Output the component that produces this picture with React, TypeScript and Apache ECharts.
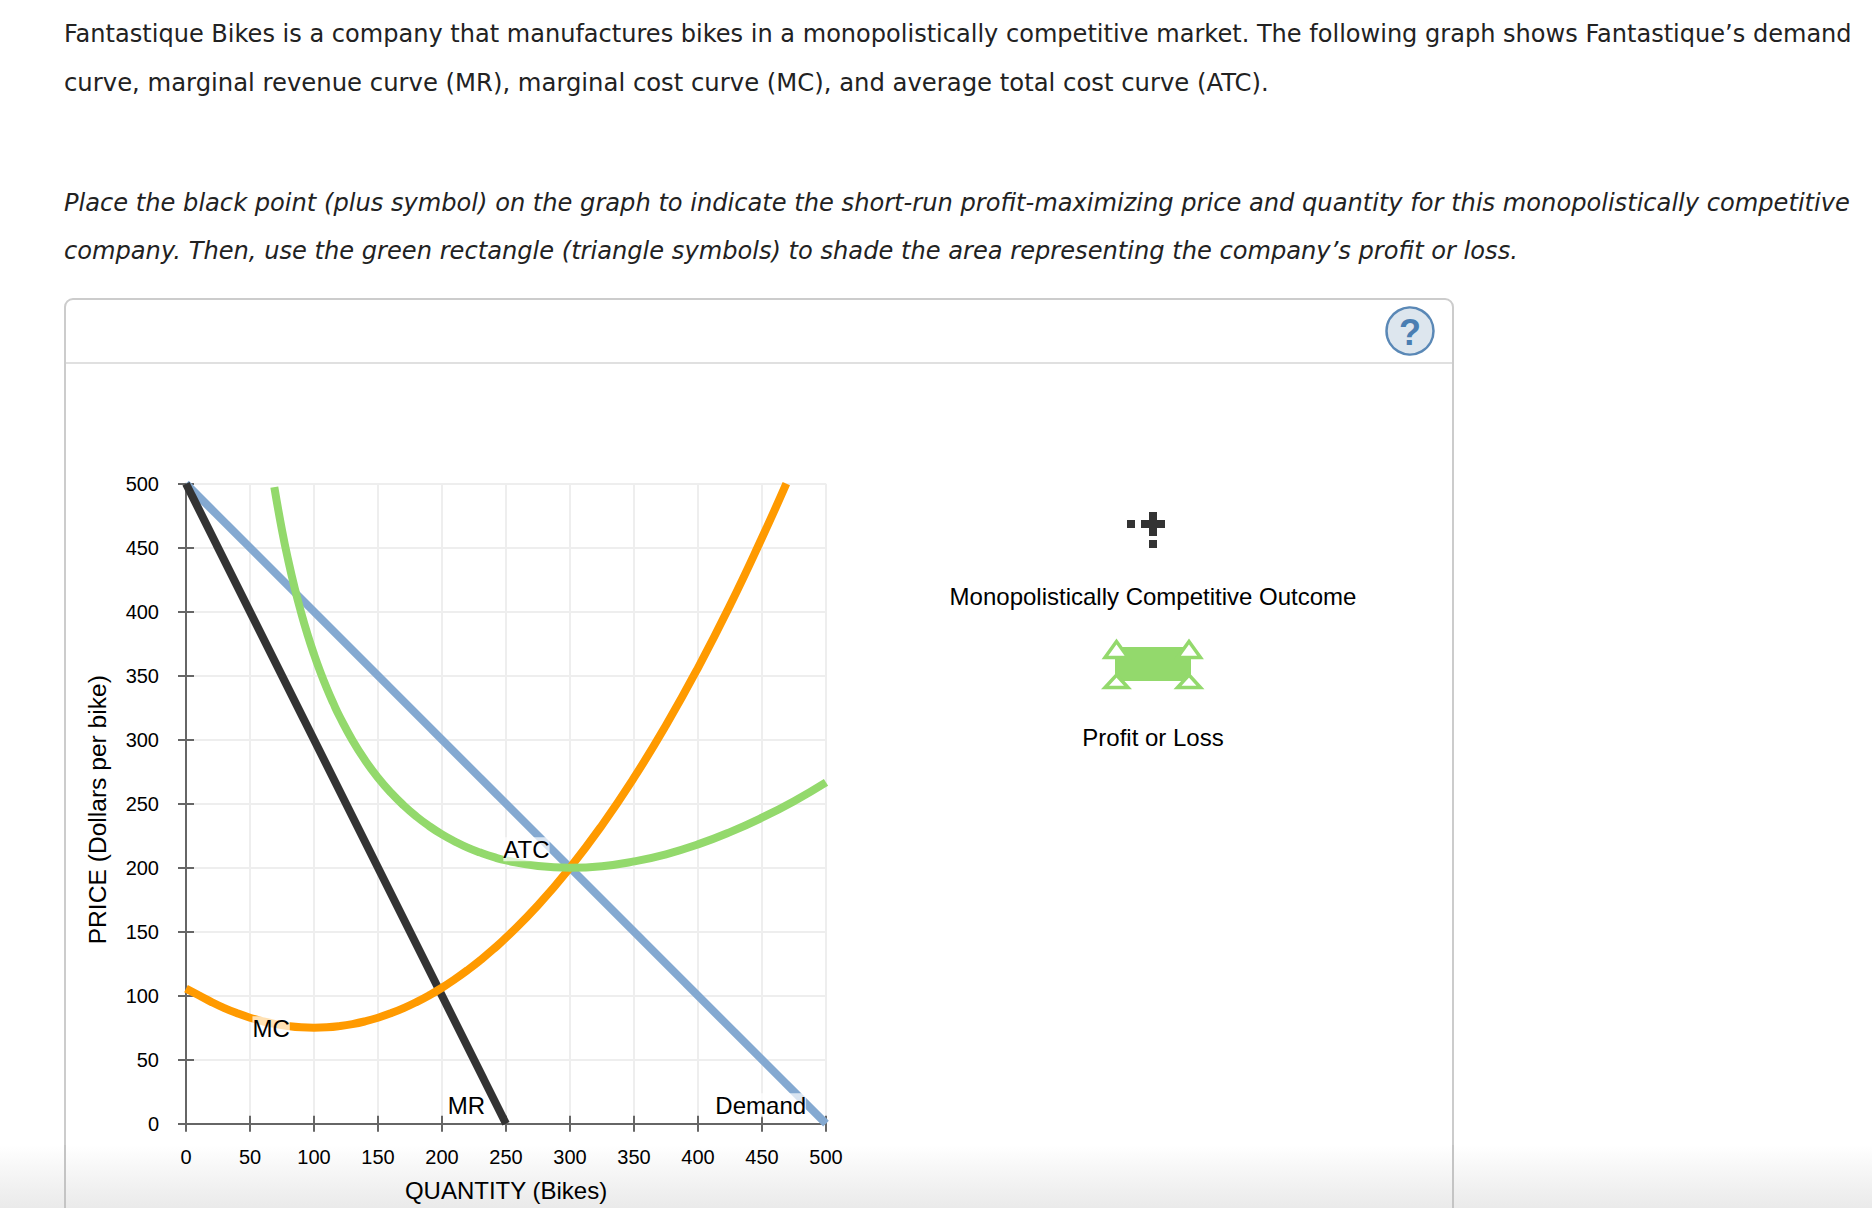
import React, { useEffect, useRef } from "react";
import * as echarts from "echarts";

const demandPoints = [[0, 500], [500, 0]];
const mrPoints = [[0, 500], [250, 0]];
const mcPoints = [[0, 105.5], [10, 100.3], [20, 95], [30, 90.3], [40, 86.25], [50, 82.8], [60, 80], [70, 77.8], [80, 76.25], [90, 75.3], [100, 75], [110, 75.3], [120, 76.25], [130, 77.8], [140, 80], [150, 82.8], [160, 86.25], [170, 90.3], [180, 95], [190, 100.3], [200, 106.2], [210, 112.8], [220, 120], [230, 127.8], [240, 136.2], [250, 145.3], [275, 170.7], [300, 200], [325, 233.2], [350, 270.3], [375, 311.3], [400, 356.2], [425, 405], [450, 457.8], [469, 500]];
const atcPoints = [[69, 497.3], [75, 463.7], [80, 439.5], [85, 418.1], [90, 399.1], [95, 382], [100, 366.7], [105, 352.8], [110, 340.2], [115, 328.7], [120, 318.1], [130, 299.6], [140, 283.8], [150, 270.3], [160, 258.7], [170, 248.7], [180, 240], [190, 232.5], [200, 226], [210, 220.5], [220, 215.7], [230, 211.8], [240, 208.4], [250, 205.7], [275, 201.4], [300, 200], [325, 201.2], [350, 204.9], [375, 210.5], [400, 218.2], [425, 227.8], [450, 239.1], [475, 252], [500, 266.7]];
const curveLabels = [
  { name: "ATC", value: [266, 214.5] },
  { name: "MC", value: [66.5, 74.5] },
  { name: "MR", value: [219, 14.5] },
  { name: "Demand", value: [449, 14.5] },
];
const paragraphLines = [
  "Fantastique Bikes is a company that manufactures bikes in a monopolistically competitive market. The following graph shows Fantastique’s demand",
  "curve, marginal revenue curve (MR), marginal cost curve (MC), and average total cost curve (ATC).",
];
const instructionLines = [
  "Place the black point (plus symbol) on the graph to indicate the short-run profit-maximizing price and quantity for this monopolistically competitive",
  "company. Then, use the green rectangle (triangle symbols) to shade the area representing the company’s profit or loss.",
];

const SANS = "'Liberation Sans', Arial, sans-serif";
const GREEN = "#93d96c";

export default function App() {
  const ref = useRef<HTMLDivElement>(null);
  useEffect(() => {
    document.body.style.margin = "0";
    const chart = echarts.init(ref.current!, null, { renderer: "svg" });
    const line = (name: string, data: number[][], color: string, smooth: boolean, z: number) => ({
      type: "line", name, data, smooth, showSymbol: false, symbol: "none", z, clip: false,
      lineStyle: { color, width: 8, cap: "butt" },
    });
    const baseAxis = { type: "value", min: 0, max: 500, interval: 50 };
    const triangle = (cx: number, apex: number, base: number) => ({
      type: "polygon", z: 6,
      shape: { points: [[cx, apex], [cx + 11.5, base], [cx - 11.5, base]] },
      style: { fill: "#fff", stroke: GREEN, lineWidth: 3.5 },
    });
    const sizes = [24.05, 24.3, 24.13, 24.14];
    const texts = [
      ...paragraphLines.map((t, i) => ({ t, y: 34 + i * 48, italic: false, size: sizes[i] })),
      ...instructionLines.map((t, i) => ({ t, y: 202.5 + i * 48, italic: true, size: sizes[i + 2] })),
    ].map(({ t, y, italic, size }) => ({
      type: "text", x: 64, y,
      style: { text: t, font: `${italic ? "italic " : ""}${size}px 'DejaVu Sans'`, fill: "#222", textVerticalAlign: "middle" },
    }));
    chart.setOption({
      animation: false,
      backgroundColor: "#fff",
      grid: { left: 186, top: 483.7, width: 640, height: 640, outerBoundsMode: "none", containLabel: false },
      xAxis: [
        {
          ...baseAxis,
          name: "QUANTITY (Bikes)", nameLocation: "middle", nameGap: 55,
          nameTextStyle: { fontFamily: SANS, fontSize: 24, color: "#000" },
          axisLine: { show: true, onZero: false, lineStyle: { color: "#666", width: 2 } },
          axisTick: { show: true, length: 8, lineStyle: { color: "#666", width: 2 } },
          axisLabel: { show: true, fontFamily: SANS, fontSize: 20, color: "#000", margin: 23 },
          splitLine: { show: true, lineStyle: { color: "#eee", width: 2 } },
        },
        {
          ...baseAxis, position: "bottom",
          axisLine: { show: false },
          axisTick: { show: true, inside: true, length: 8, lineStyle: { color: "#666", width: 2 } },
          axisLabel: { show: false }, splitLine: { show: false },
        },
      ],
      yAxis: [
        {
          ...baseAxis,
          name: "PRICE (Dollars per bike)", nameLocation: "middle", nameGap: 76, nameRotate: 90,
          nameTextStyle: { fontFamily: SANS, fontSize: 24.6, color: "#000", padding: [0, 12, 0, 0] },
          axisLine: { show: true, onZero: false, lineStyle: { color: "#666", width: 2 } },
          axisTick: { show: true, length: 8, lineStyle: { color: "#666", width: 2 } },
          axisLabel: { show: true, fontFamily: SANS, fontSize: 20, color: "#000", margin: 27 },
          splitLine: { show: true, lineStyle: { color: "#eee", width: 2 } },
        },
        {
          ...baseAxis, position: "left",
          axisLine: { show: false },
          axisTick: { show: true, inside: true, length: 8, lineStyle: { color: "#666", width: 2 } },
          axisLabel: { show: false }, splitLine: { show: false },
        },
      ],
      series: [
        line("Demand", demandPoints, "#84a9d1", false, 3),
        line("MR", mrPoints, "#333333", false, 4),
        line("MC", mcPoints, "#ff9a00", true, 5),
        line("ATC", atcPoints, GREEN, true, 6),
        {
          type: "scatter", data: curveLabels, symbolSize: 0, z: 10,
          itemStyle: { opacity: 1 },
          label: {
            show: true, position: "inside", formatter: "{b}",
            fontFamily: SANS, fontSize: 24, color: "#000", opacity: 1,
            backgroundColor: "rgba(255,255,255,0.7)",
          },
        },
      ],
      graphic: [
        ...texts,
        { type: "rect", z: -3, shape: { x: 65, y: 299, width: 1388, height: 1000, r: 8 }, style: { fill: "#fff", stroke: "#ccc", lineWidth: 2 } },
        { type: "line", z: -3, shape: { x1: 66, y1: 363, x2: 1452, y2: 363 }, style: { stroke: "#e0e0e0", lineWidth: 2 } },
        {
          type: "rect", z: -2, shape: { x: 0, y: 1145, width: 1872, height: 63 },
          style: { fill: new echarts.graphic.LinearGradient(0, 0, 0, 1, [{ offset: 0, color: "rgba(234,234,234,0)" }, { offset: 1, color: "rgba(234,234,234,1)" }]) },
          silent: true,
        },
        { type: "line", z: -1, shape: { x1: 65, y1: 1145, x2: 65, y2: 1208 }, style: { stroke: "#c4c4c4", lineWidth: 2 } },
        { type: "line", z: -1, shape: { x1: 1453, y1: 1145, x2: 1453, y2: 1208 }, style: { stroke: "#c4c4c4", lineWidth: 2 } },
        { type: "circle", shape: { cx: 1410, cy: 331, r: 23.5 }, style: { fill: "#dde6ee", stroke: "#5a88b6", lineWidth: 2.5 } },
        { type: "text", x: 1410, y: 332, style: { text: "?", font: "bold 36px 'Liberation Sans'", fill: "#4a7eb2", textAlign: "center", textVerticalAlign: "middle" } },
        { type: "rect", shape: { x: 1141, y: 520, width: 24, height: 8 }, style: { fill: "#333" } },
        { type: "rect", shape: { x: 1149, y: 512, width: 8, height: 24 }, style: { fill: "#333" } },
        { type: "rect", shape: { x: 1127, y: 520, width: 8, height: 8 }, style: { fill: "#333" } },
        { type: "rect", shape: { x: 1149, y: 540, width: 8, height: 8 }, style: { fill: "#333" } },
        { type: "text", x: 1153, y: 596, style: { text: "Monopolistically Competitive Outcome", font: `24px ${SANS}`, fill: "#000", textAlign: "center", textVerticalAlign: "middle" } },
        { type: "rect", shape: { x: 1115, y: 647, width: 76, height: 34 }, style: { fill: GREEN } },
        triangle(1116.5, 641.5, 657.5), triangle(1189, 641.5, 657.5), triangle(1116.5, 675, 687.5), triangle(1189, 675, 687.5),
        { type: "text", x: 1153, y: 737, style: { text: "Profit or Loss", font: `24px ${SANS}`, fill: "#000", textAlign: "center", textVerticalAlign: "middle" } },
      ],
    });
    return () => chart.dispose();
  }, []);
  return <div ref={ref} style={{ position: "absolute", left: 0, top: 0, width: 1872, height: 1208 }} />;
}
